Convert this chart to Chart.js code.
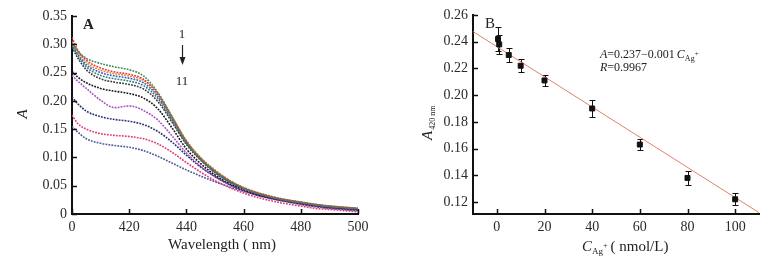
<!DOCTYPE html>
<html>
<head>
<meta charset="utf-8">
<script src="https://cdn.jsdelivr.net/npm/chart.js@4"></script>
<style>
  body { margin: 0; background: #fff; }
  #wrap { position: relative; width: 769px; height: 263px; }
  canvas { position: absolute; top: 0; }
</style>
</head>
<body>
<div id="wrap">
  <canvas id="chartA" width="380" height="263" style="left:0"></canvas>
  <canvas id="chartB" width="389" height="263" style="left:380px"></canvas>
</div>
<script>
// panel A: absorption spectra, curves 1 -> 11
let wavelength = [400, 402, 405, 410, 415, 420, 425, 430, 435, 440, 445, 450, 455, 460, 465, 470, 475, 480, 485, 490, 495, 500];
let s1  = [0.302, 0.288, 0.275, 0.266, 0.260, 0.255, 0.244, 0.215, 0.172, 0.128, 0.098, 0.076, 0.059, 0.046, 0.037, 0.030, 0.025, 0.021, 0.017, 0.014, 0.012, 0.010];
let s2  = [0.312, 0.290, 0.272, 0.258, 0.251, 0.247, 0.238, 0.212, 0.170, 0.128, 0.098, 0.076, 0.059, 0.046, 0.037, 0.030, 0.025, 0.021, 0.017, 0.014, 0.012, 0.010];
let s3  = [0.305, 0.287, 0.268, 0.254, 0.248, 0.244, 0.236, 0.212, 0.172, 0.130, 0.100, 0.078, 0.060, 0.047, 0.038, 0.031, 0.025, 0.021, 0.017, 0.014, 0.012, 0.010];
let s4  = [0.300, 0.283, 0.264, 0.250, 0.244, 0.240, 0.232, 0.208, 0.168, 0.127, 0.097, 0.075, 0.058, 0.045, 0.036, 0.029, 0.024, 0.020, 0.016, 0.013, 0.011, 0.009];
let s5  = [0.298, 0.280, 0.260, 0.245, 0.239, 0.235, 0.227, 0.204, 0.165, 0.125, 0.096, 0.074, 0.057, 0.045, 0.036, 0.029, 0.024, 0.020, 0.016, 0.013, 0.011, 0.009];
let s6  = [0.295, 0.276, 0.255, 0.239, 0.233, 0.229, 0.221, 0.199, 0.162, 0.123, 0.095, 0.073, 0.057, 0.045, 0.036, 0.029, 0.024, 0.020, 0.016, 0.013, 0.011, 0.009];
let s7  = [0.252, 0.242, 0.232, 0.222, 0.217, 0.213, 0.205, 0.186, 0.152, 0.115, 0.089, 0.069, 0.054, 0.043, 0.034, 0.028, 0.023, 0.019, 0.015, 0.012, 0.010, 0.008];
let s8  = [0.245, 0.235, 0.222, 0.201, 0.188, 0.191, 0.183, 0.166, 0.138, 0.108, 0.084, 0.066, 0.052, 0.041, 0.033, 0.027, 0.022, 0.018, 0.014, 0.011, 0.009, 0.007];
let s9  = [0.207, 0.195, 0.182, 0.172, 0.167, 0.164, 0.158, 0.146, 0.127, 0.104, 0.083, 0.066, 0.052, 0.041, 0.033, 0.027, 0.022, 0.018, 0.014, 0.011, 0.009, 0.007];
let s10 = [0.175, 0.160, 0.150, 0.142, 0.139, 0.137, 0.133, 0.124, 0.109, 0.091, 0.074, 0.059, 0.047, 0.037, 0.029, 0.023, 0.018, 0.014, 0.010, 0.008, 0.006, 0.004];
let s11 = [0.155, 0.145, 0.133, 0.125, 0.121, 0.118, 0.112, 0.102, 0.090, 0.078, 0.067, 0.057, 0.048, 0.040, 0.033, 0.027, 0.022, 0.017, 0.013, 0.010, 0.008, 0.006];
let spectra = [s1, s2, s3, s4, s5, s6, s7, s8, s9, s10, s11];
let spectraColors = ['#3f8a55', '#e23a3a', '#e0892a', '#3a5cc4', '#2f7f7a', '#3a3a3a', '#151515', '#a24cc0', '#26306e', '#e03a78', '#4c5a96'];
let xTicksA = [400, 420, 440, 460, 480, 500];
let yTicksA = [0, 0.05, 0.10, 0.15, 0.20, 0.25, 0.30, 0.35];

// panel B: A420 vs Ag+ concentration
let concAg = [0.5, 1, 5, 10, 20, 40, 60, 80, 100];
let absB = [0.242, 0.238, 0.230, 0.222, 0.211, 0.190, 0.163, 0.138, 0.122];
let errB = [0.009, 0.007, 0.005, 0.005, 0.004, 0.006, 0.004, 0.005, 0.0045];
let fitX = [-10, 110];
let fitCoef = [0.2363, -0.00113];
let xTicksB = [0, 20, 40, 60, 80, 100];
let yTicksB = [0.12, 0.14, 0.16, 0.18, 0.20, 0.22, 0.24, 0.26];

const serif = "'Liberation Serif', 'DejaVu Serif', serif";
const tickFont = { family: serif, size: 14 };

const inwardTicks = {
    id: 'inwardTicks',
    afterDraw(chart) {
        const { ctx, chartArea: a, scales } = chart;
        ctx.save();
        ctx.strokeStyle = '#111';
        ctx.lineWidth = 1.5;
        ctx.beginPath();
        scales.x.ticks.forEach(t => {
            const px = Math.round(scales.x.getPixelForValue(t.value)) + 0.5;
            ctx.moveTo(px, a.bottom);
            ctx.lineTo(px, a.bottom - 5);
        });
        scales.y.ticks.forEach(t => {
            const py = Math.round(scales.y.getPixelForValue(t.value)) + 0.5;
            ctx.moveTo(a.left, py);
            ctx.lineTo(a.left + 5, py);
        });
        ctx.stroke();
        ctx.restore();
    }
};

function drawParts(ctx, parts, x, y) {
    parts.forEach(p => {
        ctx.font = p.font;
        ctx.fillText(p.t, x, y + (p.dy || 0));
        x += ctx.measureText(p.t).width + (p.gap || 0);
    });
}

function axisOptions(ticks, fmt, fitFn) {
    return {
        type: 'linear',
        min: ticks.min,
        max: ticks.max,
        afterBuildTicks: s => { s.ticks = ticks.list.map(v => ({ value: v })); },
        afterFit: fitFn,
        ticks: { font: tickFont, color: '#2a2a2a', padding: 5, maxRotation: 0, autoSkip: false, callback: fmt },
        grid: { drawOnChartArea: false, drawTicks: false },
        border: { color: '#111', width: 2 }
    };
}

let ctxA = document.getElementById('chartA').getContext('2d');
let chartA = new Chart(ctxA, {
    type: 'line',
    data: {
        datasets: spectra.map((s, i) => ({
            data: wavelength.map((w, j) => ({ x: w, y: s[j] })),
            borderColor: spectraColors[i],
            borderWidth: 1.6,
            borderDash: [1.8, 1.2],
            pointRadius: 0,
            tension: 0.4,
            cubicInterpolationMode: 'monotone',
            fill: false
        }))
    },
    options: {
        responsive: false,
        animation: false,
        layout: { padding: { top: 16, right: 22, left: 0, bottom: 0 } },
        scales: {
            x: axisOptions({ min: 400, max: 500, list: xTicksA }, v => v === 400 ? '0' : v, s => { s.height = 49; }),
            y: axisOptions({ min: 0, max: 0.35, list: yTicksA }, v => v === 0 ? '0' : v.toFixed(2), s => { s.width = 72; })
        },
        plugins: { legend: { display: false }, tooltip: { enabled: false } }
    },
    plugins: [inwardTicks, {
        id: 'textA',
        afterDraw(chart) {
            const ctx = chart.ctx;
            ctx.save();
            ctx.fillStyle = '#222';
            ctx.textBaseline = 'alphabetic';
            ctx.font = 'bold 15px ' + serif;
            ctx.fillText('A', 83, 29);
            ctx.font = '13px ' + serif;
            ctx.textAlign = 'center';
            ctx.fillText('1', 182, 38);
            ctx.fillText('11', 182, 85);
            ctx.font = '15px ' + serif;
            ctx.fillText('Wavelength ( nm)', 222, 249);
            // arrow
            ctx.strokeStyle = '#222';
            ctx.lineWidth = 1.2;
            ctx.beginPath();
            ctx.moveTo(182.5, 45);
            ctx.lineTo(182.5, 60);
            ctx.stroke();
            ctx.beginPath();
            ctx.moveTo(179.5, 57);
            ctx.lineTo(185.5, 57);
            ctx.lineTo(182.5, 65);
            ctx.closePath();
            ctx.fill();
            // y title
            ctx.translate(27, 114);
            ctx.rotate(-Math.PI / 2);
            ctx.font = 'italic 15px ' + serif;
            ctx.fillText('A', 0, 0);
            ctx.restore();
        }
    }]
});

let ctxB = document.getElementById('chartB').getContext('2d');
let chartB = new Chart(ctxB, {
    type: 'scatter',
    data: {
        datasets: [{
            data: concAg.map((c, i) => ({ x: c, y: absB[i] })),
            backgroundColor: '#111',
            borderColor: '#111',
            pointStyle: 'rect',
            pointRadius: 3.5,
            order: 1
        }, {
            type: 'line',
            data: fitX.map(x => ({ x: x, y: fitCoef[0] + fitCoef[1] * x })),
            borderColor: '#e0806a',
            borderWidth: 1,
            pointRadius: 0,
            fill: false,
            order: 2
        }]
    },
    options: {
        responsive: false,
        animation: false,
        layout: { padding: { top: 15, right: 10, left: 0, bottom: 0 } },
        scales: {
            x: axisOptions({ min: -10, max: 110, list: xTicksB }, v => v, s => { s.height = 49; }),
            y: axisOptions({ min: 0.111, max: 0.26, list: yTicksB }, v => v.toFixed(2), s => { s.width = 93; })
        },
        plugins: { legend: { display: false }, tooltip: { enabled: false } }
    },
    plugins: [inwardTicks, {
        id: 'errorBars',
        beforeDatasetsDraw(chart) {
            const { ctx, scales: { x, y } } = chart;
            ctx.save();
            ctx.strokeStyle = '#111';
            ctx.lineWidth = 1;
            ctx.beginPath();
            concAg.forEach((c, i) => {
                const px = Math.round(x.getPixelForValue(c)) + 0.5;
                const top = Math.round(y.getPixelForValue(absB[i] + errB[i])) + 0.5;
                const bot = Math.round(y.getPixelForValue(absB[i] - errB[i])) + 0.5;
                ctx.moveTo(px, top); ctx.lineTo(px, bot);
                ctx.moveTo(px - 3, top); ctx.lineTo(px + 3, top);
                ctx.moveTo(px - 3, bot); ctx.lineTo(px + 3, bot);
            });
            ctx.stroke();
            ctx.restore();
        }
    }, {
        id: 'textB',
        afterDraw(chart) {
            const ctx = chart.ctx;
            ctx.save();
            ctx.fillStyle = '#222';
            ctx.font = '15px ' + serif;
            ctx.fillText('B', 105, 28);
            drawParts(ctx, [
                { t: 'A', font: 'italic 12px ' + serif },
                { t: '=0.237\u22120.001', font: '12px ' + serif, gap: 2 },
                { t: 'C', font: 'italic 12px ' + serif },
                { t: 'Ag', font: '8px ' + serif, dy: 3 },
                { t: '+', font: '7px ' + serif, dy: -2 }
            ], 220, 58);
            drawParts(ctx, [
                { t: 'R', font: 'italic 12px ' + serif },
                { t: '=0.9967', font: '12px ' + serif }
            ], 220, 71);
            drawParts(ctx, [
                { t: 'C', font: 'italic 15px ' + serif },
                { t: 'Ag', font: '9px ' + serif, dy: 3 },
                { t: '+', font: '8px ' + serif, dy: -3, gap: 3 },
                { t: '( nmol/L)', font: '15px ' + serif }
            ], 202, 251);
            ctx.translate(52, 140);
            ctx.rotate(-Math.PI / 2);
            drawParts(ctx, [
                { t: 'A', font: 'italic 15px ' + serif, gap: 1 },
                { t: '420 nm', font: '8px ' + serif, dy: 3 }
            ], 0, 0);
            ctx.restore();
        }
    }]
});
</script>
</body>
</html>
